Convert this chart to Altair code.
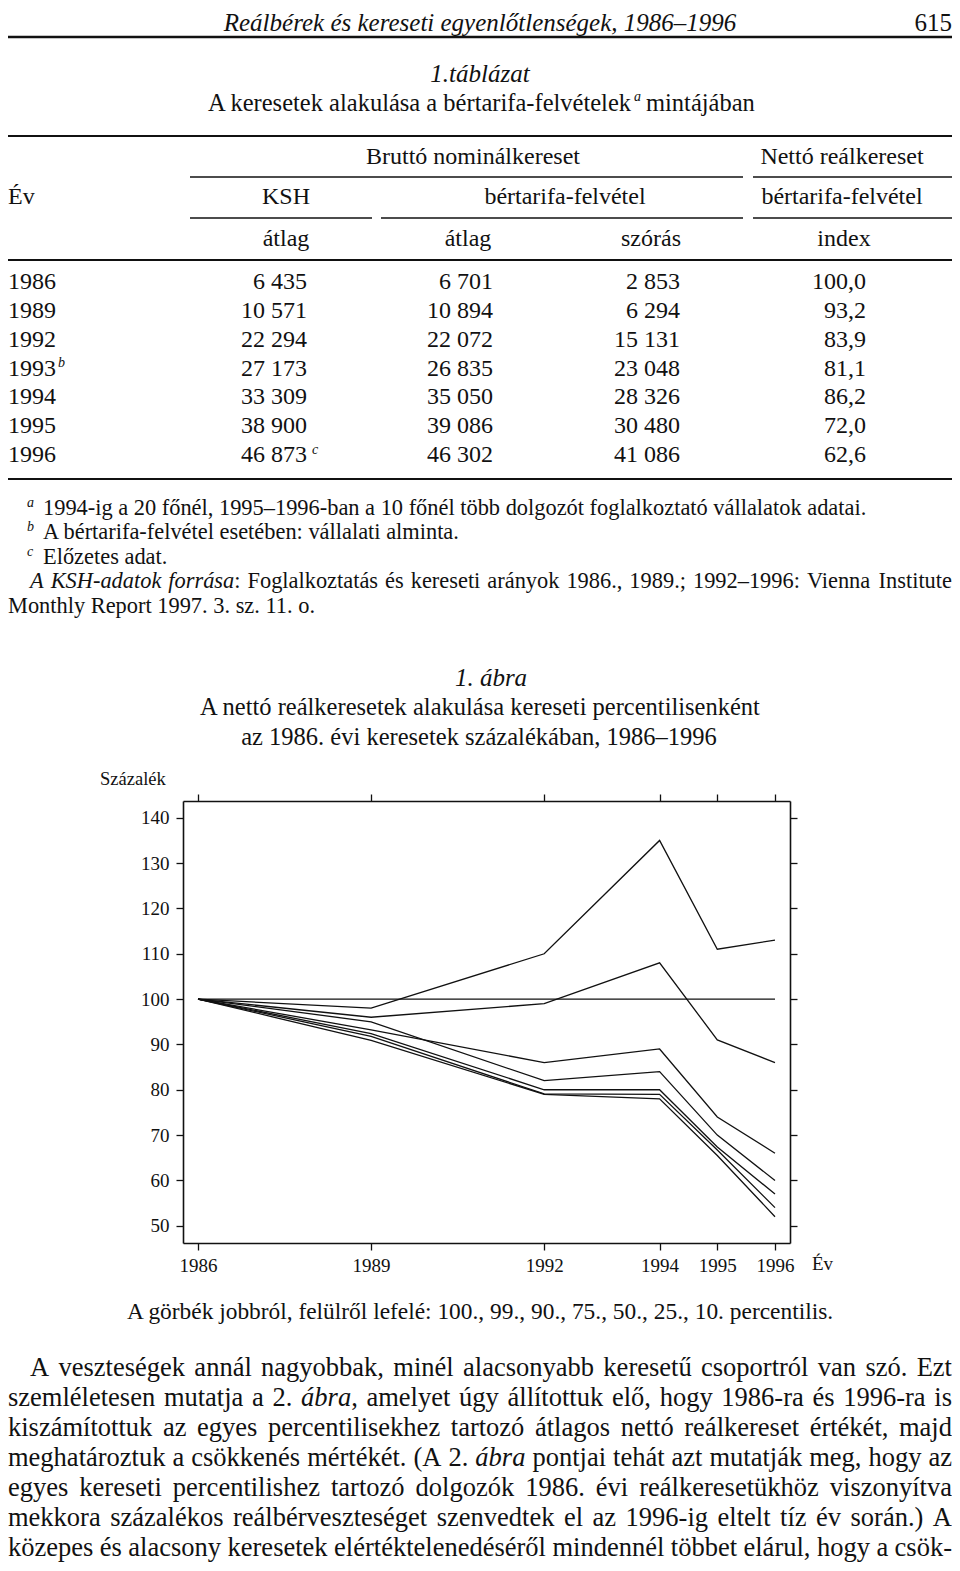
import altair as alt
import pandas as pd

FONT = "Liberation Serif"
INK = "#111111"
W, H = 944, 1555
M = 8
LEFT, RIGHT = 8, 952

# ---------------- table data ----------------
table_years = ["1986", "1989", "1992", "1993", "1994", "1995", "1996"]
ksh_atlag = [6435, 10571, 22294, 27173, 33309, 38900, 46873]
bt_atlag = [6701, 10894, 22072, 26835, 35050, 39086, 46302]
bt_szoras = [2853, 6294, 15131, 23048, 28326, 30480, 41086]
netto_index = [100.0, 93.2, 83.9, 81.1, 86.2, 72.0, 62.6]

# ---------------- figure data ----------------
fig_years = [1986, 1989, 1992, 1994, 1995, 1996]
p100 = [100, 98.0, 110.0, 135.0, 111.0, 113.0]
p99 = [100, 96.0, 99.0, 108.0, 91.0, 86.0]
p90 = [100, 93.2, 86.0, 89.0, 74.0, 66.0]
p75 = [100, 95.0, 82.0, 84.0, 70.0, 60.0]
p50 = [100, 92.4, 80.0, 80.0, 67.4, 57.0]
p25 = [100, 91.8, 79.1, 79.0, 66.7, 54.0]
p10 = [100, 90.9, 79.0, 78.0, 65.5, 52.0]
ref_level = [100]
y_ticks = [50, 60, 70, 80, 90, 100, 110, 120, 130, 140]

series = {"100": p100, "99": p99, "90": p90, "75": p75, "50": p50, "25": p25, "10": p10}
lines_df = pd.DataFrame(
    [{"year": yr, "value": v, "pct": k} for k, vals in series.items() for yr, v in zip(fig_years, vals)]
)
ref_df = pd.DataFrame({"x": [fig_years[0]], "x2": [fig_years[-1]], "y": ref_level})

# ---------------- texts ----------------
footnotes = [
    ("a", "1994-ig a 20 főnél, 1995–1996-ban a 10 főnél több dolgozót foglalkoztató vállalatok adatai."),
    ("b", "A bértarifa-felvétel esetében: vállalati alminta."),
    ("c", "Előzetes adat."),
]
source_line = "*A KSH-adatok forrása*: Foglalkoztatás és kereseti arányok 1986., 1989.; 1992–1996: Vienna Institute"
source_line2 = "Monthly Report 1997. 3. sz. 11. o."
body_lines = [
    "A veszteségek annál nagyobbak, minél alacsonyabb keresetű csoportról van szó. Ezt",
    "szemléletesen mutatja a 2. *ábra*, amelyet úgy állítottuk elő, hogy 1986-ra és 1996-ra is",
    "kiszámítottuk az egyes percentilisekhez tartozó átlagos nettó reálkereset értékét, majd",
    "meghatároztuk a csökkenés mértékét. (A 2. *ábra* pontjai tehát azt mutatják meg, hogy az",
    "egyes kereseti percentilishez tartozó dolgozók 1986. évi reálkeresetükhöz viszonyítva",
    "mekkora százalékos reálbérveszteséget szenvedtek el az 1996-ig eltelt tíz év során.) A",
    "közepes és alacsony keresetek elértéktelenedéséről mindennél többet elárul, hogy a csök-",
]

# Times metrics (per 1000 em) used only to lay out justified text
_TR = {" ": 250, "!": 333, "(": 333, ")": 333, ",": 250, "-": 333, ".": 250, "/": 278, ":": 278,
       ";": 278, "?": 444, "–": 500}
_TR.update({d: 500 for d in "0123456789"})
_TR.update(dict(zip("ABCDEFGHIJKLMNOPQRSTUVWXYZ",
                    [722, 667, 667, 722, 611, 556, 722, 722, 333, 389, 722, 611, 889, 722, 722, 556,
                     722, 667, 556, 611, 722, 722, 944, 722, 722, 611])))
_TR.update(dict(zip("abcdefghijklmnopqrstuvwxyz",
                    [444, 500, 444, 500, 444, 333, 500, 500, 278, 278, 500, 278, 778, 500, 500, 500,
                     500, 333, 389, 278, 500, 500, 722, 500, 500, 444])))
_TI = dict(_TR)
_TI.update(dict(zip("ABCDEFGHIJKLMNOPQRSTUVWXYZ",
                    [611, 611, 667, 722, 611, 611, 722, 722, 333, 444, 667, 556, 833, 667, 722, 611,
                     722, 611, 500, 556, 722, 611, 833, 611, 556, 556])))
_TI.update(dict(zip("abcdefghijklmnopqrstuvwxyz",
                    [500, 500, 444, 500, 444, 278, 500, 500, 278, 278, 444, 278, 722, 500, 500, 500,
                     500, 389, 389, 278, 500, 444, 667, 444, 444, 389])))
_ACC = str.maketrans("áéíóöőúüűÁÉÍÓÖŐÚÜŰ", "aeiooouuuAEIOOOUUU")


def tw(s, size, italic=False):
    tab = _TI if italic else _TR
    return sum(tab.get(ch, 500) for ch in s.translate(_ACC)) * size / 1000.0


layers = []
_dummy = pd.DataFrame({"k": [0]})


def T(s, x, y, size, align="left", italic=False, baseline="middle"):
    layers.append(
        alt.Chart(_dummy)
        .mark_text(text=s, font=FONT, fontSize=size, fontStyle="italic" if italic else "normal",
                   align=align, baseline=baseline, color=INK)
        .encode(x=alt.value(x - M), y=alt.value(y - M))
    )


def R(x1, x2, y, w):
    layers.append(
        alt.Chart(_dummy).mark_rule(color=INK, strokeWidth=w)
        .encode(x=alt.value(x1 - M), x2=alt.value(x2 - M), y=alt.value(y - M))
    )


def parse(line):
    words, italic = [], False
    for raw in line.split(" "):
        segs = []
        for j, p in enumerate(raw.split("*")):
            if j > 0:
                italic = not italic
            if p:
                segs.append((p, italic))
        words.append(segs)
    return words


def justify(line, y, size, left, right):
    words = parse(line)
    ws = [sum(tw(t, size, it) for t, it in w) for w in words]
    gap = (right - left - sum(ws)) / (len(words) - 1)
    x = left
    for w, wd in zip(words, ws):
        xx = x
        for t, it in w:
            T(t, xx, y, size, "left", it)
            xx += tw(t, size, it)
        x += wd + gap


def fmt_int(v):
    return f"{v:,}".replace(",", " ")


def fmt_dec(v):
    return f"{v:.1f}".replace(".", ",")


# ---------------- page header ----------------
T("Reálbérek és kereseti egyenlőtlenségek, 1986–1996", 480, 31, 25, "center", True, "alphabetic")
T("615", RIGHT, 31, 25, "right", False, "alphabetic")
R(LEFT, RIGHT, 37, 2.5)

# ---------------- table ----------------
T("1.táblázat", 480, 74, 25, "center", True)
part1 = "A keresetek alakulása a bértarifa-felvételek"
TS = 24.5
x_start = 208
x_sup = x_start + tw(part1, TS) + 1.5
T(part1, x_start, 104, TS, "left")
T("a", x_sup, 97, 14, "left", True)
T("mintájában", x_sup + tw("a", 14, True) + 5, 104, TS, "left")
R(LEFT, RIGHT, 136, 2)
T("Bruttó nominálkereset", 473, 157, 24, "center")
T("Nettó reálkereset", 842, 157, 24, "center")
R(190, 743, 177, 1.6)
R(753, RIGHT, 177, 1.6)
T("Év", LEFT, 197, 24, "left")
T("KSH", 286, 197, 24, "center")
T("bértarifa-felvétel", 565, 197, 24, "center")
T("bértarifa-felvétel", 842, 197, 24, "center")
R(190, 372, 218, 1.6)
R(381, 743, 218, 1.6)
R(753, RIGHT, 218, 1.6)
T("átlag", 286, 239, 24, "center")
T("átlag", 468, 239, 24, "center")
T("szórás", 651, 239, 24, "center")
T("index", 844, 239, 24, "center")
R(LEFT, RIGHT, 260, 2)

row_y0, row_dy = 282, 28.85
for i, yr in enumerate(table_years):
    yy = row_y0 + i * row_dy
    T(yr, LEFT, yy, 24, "left")
    T(fmt_int(ksh_atlag[i]), 307, yy, 24, "right")
    T(fmt_int(bt_atlag[i]), 493, yy, 24, "right")
    T(fmt_int(bt_szoras[i]), 680, yy, 24, "right")
    T(fmt_dec(netto_index[i]), 866, yy, 24, "right")
T("b", LEFT + tw("1993", 24) + 2, row_y0 + 3 * row_dy - 6, 14, "left", True)
T("c", 312, row_y0 + 6 * row_dy - 5, 14, "left", True)
R(LEFT, RIGHT, 479, 2)

# ---------------- footnotes ----------------
FS = 22.4
for (mark, txt), yy in zip(footnotes, [508, 532, 557]):
    T(mark, 27, yy - 5, 14, "left", True)
    T(txt, 43, yy, FS)
justify(source_line, 581, FS, 30, RIGHT)
T(source_line2, LEFT, 606, FS)

# ---------------- figure titles ----------------
T("1. ábra", 491, 678, 25, "center", True)
T("A nettó reálkeresetek alakulása kereseti percentilisenként", 480, 708, 24.5, "center")
T("az 1986. évi keresetek százalékában, 1986–1996", 479, 738, 24.5, "center")
T("Százalék", 100, 779, 18.5, "left")
T("Év", 812, 1264, 19, "left")
T("A görbék jobbról, felülről lefelé: 100., 99., 90., 75., 50., 25., 10. percentilis.", 480, 1312, 23.4, "center")

# ---------------- body text (justified) ----------------
BS = 26.5
for i, line in enumerate(body_lines):
    justify(line, 1368 + i * 30.0, BS, 30 if i == 0 else LEFT, RIGHT)

# ---------------- line chart ----------------
X0, X1 = 183 - M, 790 - M
Y0, Y1 = 1243 - M, 801 - M
xscale = alt.Scale(domain=[1985.74, 1996.26], range=[X0, X1], nice=False, zero=False)
yscale = alt.Scale(domain=[46.2, 143.7], range=[Y0, Y1], nice=False, zero=False)

ax_common = dict(
    title=None, grid=False, domainColor=INK, domainWidth=1.6, tickColor=INK, tickWidth=1.3,
    tickSize=7, labelFont=FONT, labelFontSize=19, labelColor=INK, labelOverlap=False,
    labelFlush=False, labelBound=False,
)

lines = alt.Chart(lines_df).mark_line(color=INK, strokeWidth=1.3).encode(
    x=alt.X("year:Q", scale=xscale,
            axis=alt.Axis(orient="bottom", offset=-(H - Y0), values=fig_years, format="d",
                          labelPadding=6, **ax_common)),
    y=alt.Y("value:Q", scale=yscale,
            axis=alt.Axis(orient="left", offset=-X0, values=y_ticks, format="d",
                          labelPadding=7, **ax_common)),
    detail="pct:N",
)

ref = alt.Chart(ref_df).mark_rule(color=INK, strokeWidth=1.3).encode(
    x=alt.X("x:Q", scale=xscale,
            axis=alt.Axis(orient="top", offset=-Y1, values=fig_years, labels=False, **ax_common)),
    x2="x2:Q",
    y=alt.Y("y:Q", scale=yscale,
            axis=alt.Axis(orient="right", offset=-(W - X1), values=y_ticks, labels=False, **ax_common)),
)

chart = (
    alt.layer(lines, ref, *layers)
    .resolve_axis(x="independent", y="independent")
    .properties(width=W, height=H, autosize="none", padding=0, background="white")
    .configure_view(strokeWidth=0)
)

chart.save("out.html", embed_options={"renderer": "svg", "actions": False})
